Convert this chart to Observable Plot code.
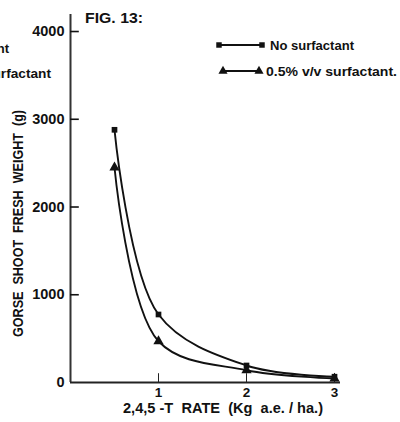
<!DOCTYPE html>
<html>
<head>
<meta charset="utf-8">
<script src="https://cdn.jsdelivr.net/npm/d3@7"></script>
<script src="https://cdn.jsdelivr.net/npm/@observablehq/plot@0.6"></script>
<style>
  html, body { margin: 0; padding: 0; background: #fff; }
  #chart { width: 400px; height: 422px; overflow: hidden; }
  svg { display: block; }
</style>
</head>
<body>
<div id="chart"></div>
<script>
const rates = [0.5, 1, 2, 3];
const noSurfactant = [2880, 775, 194, 66];
const withSurfactant = [2450, 470, 140, 45];
const seriesNames = ["No surfactant", "0.5% v/v surfactant."];
const yTicks = [0, 1000, 2000, 3000, 4000];
const xTicks = [1, 2, 3];
const title = "FIG. 13:";
const yLabel = "GORSE  SHOOT  FRESH  WEIGHT  (g)";
const xLabel = "2,4,5 -T  RATE  (Kg  a.e. / ha.)";

const rows = [
  ...rates.map((r, i) => ({rate: r, w: noSurfactant[i], s: seriesNames[0]})),
  ...rates.map((r, i) => ({rate: r, w: withSurfactant[i], s: seriesNames[1]}))
];

const FONT = "'Liberation Sans', Arial, sans-serif";
const xMax = 3.068, yMax = 4194;

const plot = Plot.plot({
  width: 400,
  height: 422,
  marginLeft: 70,
  marginRight: 60,
  marginTop: 14,
  marginBottom: 40,
  x: {domain: [0, xMax], axis: null},
  y: {domain: [0, yMax], axis: null},
  style: {fontFamily: FONT, fontWeight: "bold", color: "#111", background: "#fff"},
  marks: [
    Plot.ruleX([0], {y1: 0, y2: yMax, stroke: "#333", strokeWidth: 2}),
    Plot.ruleY([0], {x1: 0, x2: xMax, stroke: "#222", strokeWidth: 2}),
    Plot.ruleY(yTicks.filter(d => d > 0), {y: d => d, x1: 0, x2: 0.1, stroke: "#111", strokeWidth: 1.6}),
    Plot.text(yTicks, {x: 0, y: d => d, text: d => String(d), dx: -6, textAnchor: "end",
      fontSize: 14.5, fontWeight: "bold", fill: "#111", style: "letter-spacing:0.4px"}),
    Plot.ruleX(xTicks, {x: d => d, y1: 0, y2: 100, stroke: "#222", strokeWidth: 1}),
    Plot.text(xTicks, {x: d => d, y: 0, text: d => String(d), dy: 10, fontSize: 13.5,
      fontWeight: "bold", fill: "#111"}),
    Plot.line(rows, {x: "rate", y: "w", z: "s", curve: "catmull-rom", stroke: "#111", strokeWidth: 1.9}),
    Plot.dot(rows.filter(d => d.s === seriesNames[0]), {x: "rate", y: "w", symbol: "square", r: 3.2, fill: "#111", stroke: "none"}),
    Plot.dot(rows.filter(d => d.s === seriesNames[1]), {x: "rate", y: "w", symbol: "triangle", r: 3.8, fill: "#111", stroke: "none"})
  ]
});

document.getElementById("chart").appendChild(plot);
const svg = d3.select(plot);
const txt = (x, y, s, len, opts = {}) => {
  const t = svg.append("text")
    .attr("x", x).attr("y", y).text(s)
    .attr("font-family", FONT).attr("font-weight", "bold")
    .attr("font-size", opts.size || 13)
    .attr("fill", "#111")
    .attr("text-anchor", opts.anchor || "start")
    .attr("transform", opts.transform || null);
  if (len) t.attr("textLength", len).attr("lengthAdjust", "spacingAndGlyphs");
  return t;
};

// title
txt(85, 23, title, 58, {size: 15.5});
// axis labels
txt(-337, 23, yLabel, 227, {size: 14.5, transform: "rotate(-90)"});
txt(123, 413, xLabel, 200, {size: 14.5});

// legend
const legend = [
  {y: 45, x1: 219, x2: 262, tx: 270, len: 84, sym: d3.symbolSquare, size: 30, label: seriesNames[0]},
  {y: 71, x1: 223, x2: 259, tx: 266, len: 131, sym: d3.symbolTriangle, size: 36, label: seriesNames[1]}
];
legend.forEach(l => {
  svg.append("line").attr("x1", l.x1).attr("x2", l.x2).attr("y1", l.y).attr("y2", l.y)
    .attr("stroke", "#111").attr("stroke-width", 1.8);
  [l.x1, l.x2].forEach(x => svg.append("path")
    .attr("d", d3.symbol(l.sym, l.size)()).attr("transform", `translate(${x},${l.y})`).attr("fill", "#111"));
  txt(l.tx, l.y + 5, l.label, l.len, {size: 12.5});
});

// clipped fragments from the neighbouring figure's legend at the left edge
txt(-75, 53, "No surfactant", 84, {size: 12.5});
txt(-73, 78, "0.5% v/v surfactant", 124, {size: 12.5});
</script>
</body>
</html>
